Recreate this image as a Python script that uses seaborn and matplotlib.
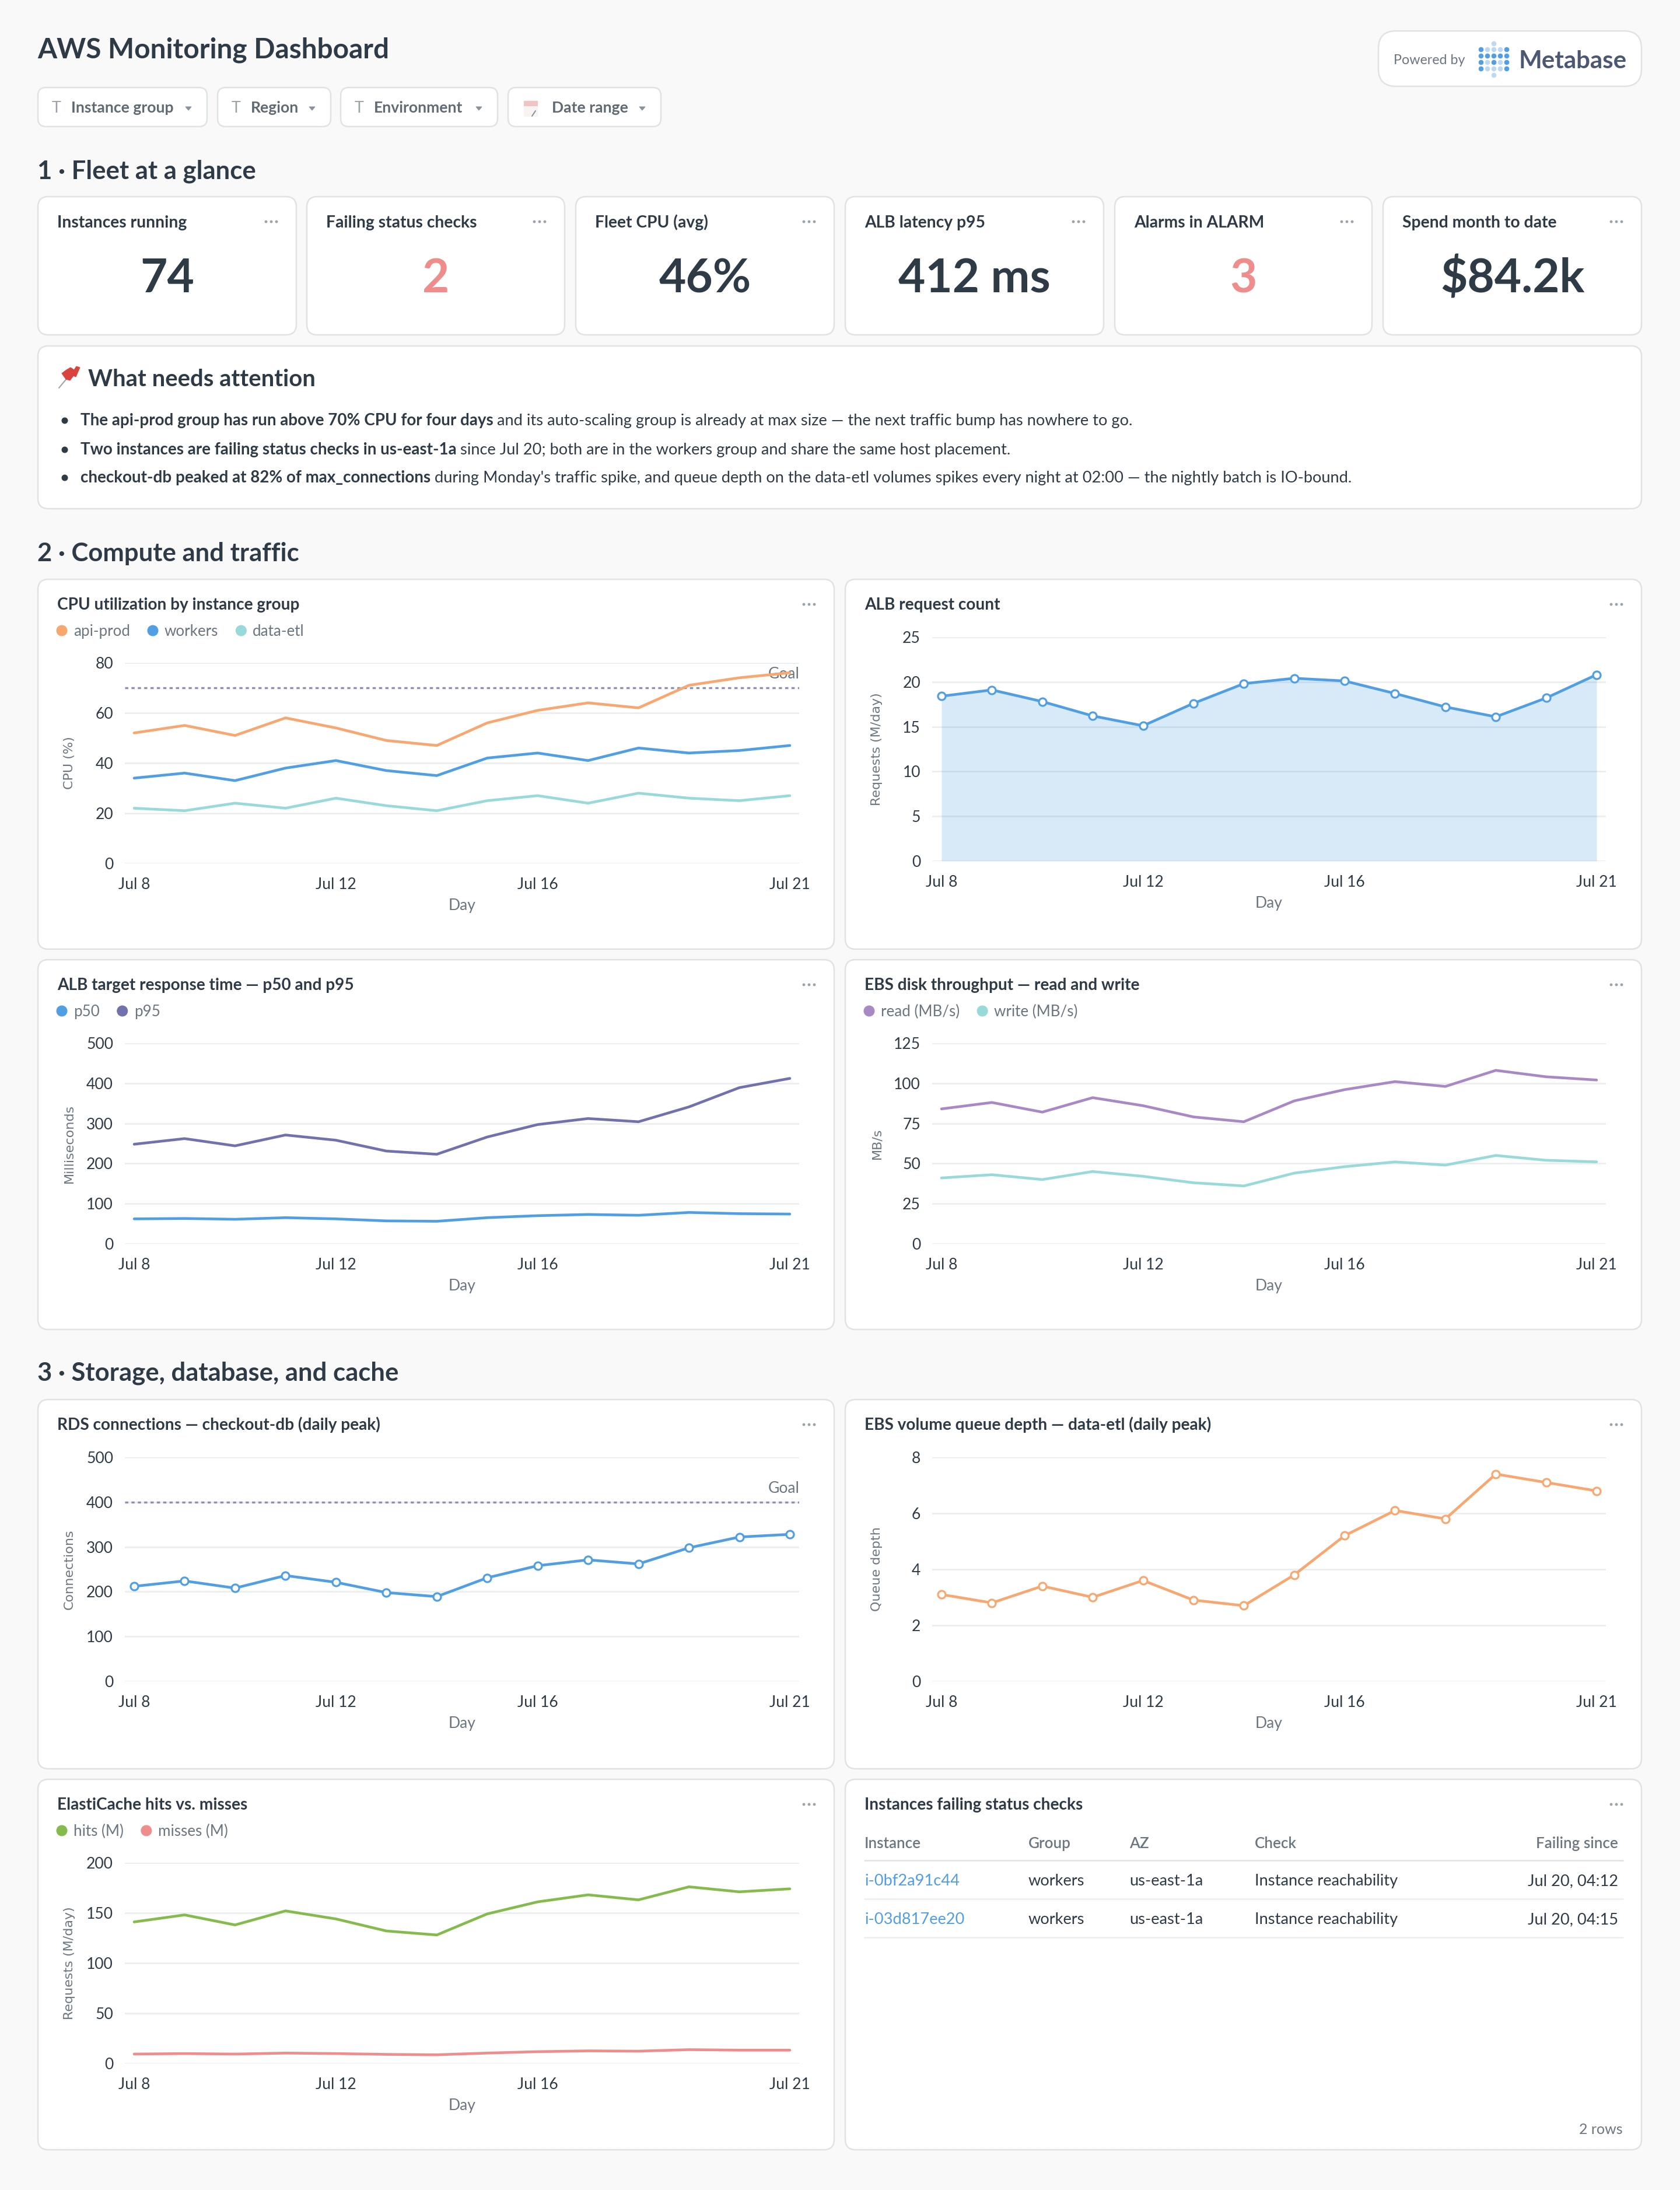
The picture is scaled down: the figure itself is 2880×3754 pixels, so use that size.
#!/usr/bin/env python3
"""AWS monitoring dashboard, rebuilt with seaborn line plots."""

import matplotlib
matplotlib.use("Agg")
import matplotlib.pyplot as plt
from matplotlib.patches import FancyBboxPatch, Rectangle, Circle, Polygon
import pandas as pd
import seaborn as sns

W, H = 2880, 3754

INK = "#2E3B47"
MUTED = "#6B7680"
GRID = "#ECEEEF"
BORDER = "#DFE3E4"
PAGE = "#F9F9F9"
ORANGE = "#F7A76F"
BLUE = "#509EE3"
TEAL = "#98D9D9"
PURPLE = "#A989C5"
INDIGO = "#7172AD"
GREEN = "#84BB4C"
RED = "#EF8C8C"

days = [8, 9, 10, 11, 12, 13, 14, 15, 16, 17, 18, 19, 20, 21]
tick_days = [8, 12, 16, 21]

cpu_api = [52, 55, 51, 58, 54, 49, 47, 56, 61, 64, 62, 71, 74, 76]
cpu_workers = [34, 36, 33, 38, 41, 37, 35, 42, 44, 41, 46, 44, 45, 47]
cpu_etl = [22, 21, 24, 22, 26, 23, 21, 25, 27, 24, 28, 26, 25, 27]
alb_requests = [18.4, 19.1, 17.8, 16.2, 15.1, 17.6, 19.8, 20.4, 20.1, 18.7, 17.2, 16.1, 18.2, 20.8]
p50 = [62, 63, 61, 65, 62, 57, 56, 65, 70, 73, 71, 78, 75, 74]
p95 = [248, 262, 244, 271, 258, 231, 223, 266, 297, 312, 304, 341, 389, 412]
ebs_read = [84, 88, 82, 91, 86, 79, 76, 89, 96, 101, 98, 108, 104, 102]
ebs_write = [41, 43, 40, 45, 42, 38, 36, 44, 48, 51, 49, 55, 52, 51]
rds_conns = [212, 224, 208, 236, 221, 198, 189, 231, 258, 271, 262, 298, 322, 328]
queue_depth = [3.1, 2.8, 3.4, 3.0, 3.6, 2.9, 2.7, 3.8, 5.2, 6.1, 5.8, 7.4, 7.1, 6.8]
cache_hits = [141, 148, 138, 152, 144, 132, 128, 149, 161, 168, 163, 176, 171, 174]
cache_misses = [9.3, 9.8, 9.3, 10.3, 9.8, 9, 8.6, 10.3, 11.7, 12.5, 12.2, 13.7, 13.2, 13.2]

kpi_titles = ["Instances running", "Failing status checks", "Fleet CPU (avg)",
              "ALB latency p95", "Alarms in ALARM", "Spend month to date"]
kpi_values = ["74", "2", "46%", "412 ms", "3", "$84.2k"]
kpi_colors = [INK, RED, INK, INK, RED, INK]

filter_names = ["Instance group", "Region", "Environment", "Date range"]

table_columns = ["Instance", "Group", "AZ", "Check", "Failing since"]
table_rows = [
    ["i-0bf2a91c44", "workers", "us-east-1a", "Instance reachability", "Jul 20, 04:12"],
    ["i-03d817ee20", "workers", "us-east-1a", "Instance reachability", "Jul 20, 04:15"],
]

sns.set_theme(style="white")
plt.rcParams["font.family"] = ["Lato", "DejaVu Sans"]

# dpi 72 so one point is one output pixel
fig = plt.figure(figsize=(W / 72, H / 72), dpi=72, facecolor=PAGE)
bg = fig.add_axes([0, 0, 1, 1], zorder=0)
bg.set_xlim(0, W)
bg.set_ylim(H, 0)
bg.axis("off")


def text(x, y, s, size=28, color=INK, weight="normal", ha="left", va="baseline", **kw):
    return bg.text(x, y, s, fontsize=size, color=color, fontweight=weight, ha=ha, va=va, **kw)


def card(x0, y0, x1, y1, radius=18):
    bg.add_patch(FancyBboxPatch((x0 + radius, y0 + radius), x1 - x0 - 2 * radius, y1 - y0 - 2 * radius,
                                boxstyle=f"round,pad={radius},rounding_size={radius}",
                                facecolor="white", edgecolor=BORDER, linewidth=2.5, zorder=1))


def dots(x, y):
    for i in (-9, 0, 9):
        bg.add_patch(Circle((x + i, y), 1.9, color="#9AA2A8", zorder=3))


def runs(x, y, parts):
    # bold and regular pieces on one line
    renderer = fig.canvas.get_renderer()
    for s, weight in parts:
        t = text(x, y, s, size=27.8 if weight == "bold" else 27.3, weight=weight, zorder=3)
        x = bg.transData.inverted().transform(t.get_window_extent(renderer))[1][0]


def chart_card(x0, y0, x1, y1, title):
    card(x0, y0, x1, y1)
    text(x0 + 33, y0 + 52, title, size=28, weight="bold", zorder=3)
    dots(x1 - 43, y0 + 43)


def legend_row(x, y, items):
    renderer = fig.canvas.get_renderer()
    for label, color in items:
        bg.add_patch(Circle((x + 9, y - 9), 9, color=color, zorder=3))
        t = text(x + 29, y, label, size=26, color=MUTED, zorder=3)
        x = bg.transData.inverted().transform(t.get_window_extent(renderer))[1][0] + 30


def line_chart(box, series, ymax, yticks, ylabel, markers=False, area=False, goal=None):
    # box is left, top, right, bottom in pixels: the gridline span
    left, top, right, bottom = box
    ax = fig.add_axes([left / W, 1 - bottom / H, (right - left) / W, (bottom - top) / H], zorder=2)
    ax.patch.set_alpha(0)
    frame = pd.DataFrame([{"day": d, "value": v, "series": name}
                          for name, (vals, _) in series.items() for d, v in zip(days, vals)])
    palette = {name: c for name, (_, c) in series.items()}
    if area:
        vals, c = next(iter(series.values()))
        ax.fill_between(days, vals, 0, color=c, alpha=0.22, linewidth=0, zorder=1)
    sns.lineplot(data=frame, x="day", y="value", hue="series", palette=palette, ax=ax, legend=False,
                 linewidth=4.6, marker="o" if markers else None, markersize=13,
                 markerfacecolor="white", markeredgecolor=list(palette.values())[0],
                 markeredgewidth=3.2, zorder=3, clip_on=False)
    ax.set_xlim(8 - 16 / 86.4, 21 + 16 / 86.4)
    ax.set_ylim(0, ymax)
    ax.set_xticks(tick_days)
    ax.set_xticklabels([f"Jul {d}" for d in tick_days])
    ax.set_yticks(yticks)
    ax.tick_params(axis="both", length=0, labelsize=26.5, labelcolor=INK, pad=0)
    ax.tick_params(axis="x", pad=24)
    ax.tick_params(axis="y", pad=20)
    ax.grid(axis="y", color=GRID, linewidth=3, zorder=0)
    ax.set_axisbelow(True)
    sns.despine(ax=ax, left=True, bottom=True, top=True, right=True)
    ax.set_xlabel("")
    ax.set_ylabel("")
    mid_x = (left + right) / 2
    text(mid_x, bottom + 80, "Day", size=26.5, color=MUTED, ha="center", zorder=3)
    text(left - 95, (top + bottom) / 2, ylabel, size=22.3, color=MUTED, ha="center", va="center",
         rotation=90, family=["DejaVu Sans"], zorder=3)
    if goal is not None:
        ax.axhline(goal, color="#8E8FB5", linewidth=3.4, linestyle=(0, (1.6, 1.6)), zorder=2)
        text(right + 1, top + (1 - goal / ymax) * (bottom - top) - 16, "Goal", size=26.5, color=MUTED, ha="right", zorder=4)
    return ax


# header
text(64, 99, "AWS Monitoring Dashboard", size=47.7, weight="bold")

chip_edges = [(65, 355), (373, 567), (584, 853), (871, 1133)]
for (x0, x1), name in zip(chip_edges, filter_names):
    card(x0, 150, x1, 217, radius=14)
    if name == "Date range":
        bg.add_patch(Rectangle((x0 + 27, 172), 23, 27, color="#F7F4F2", zorder=3))
        bg.add_patch(Rectangle((x0 + 27, 173), 23, 8, color="#EFC4C2", zorder=3))
        bg.plot([x0 + 41, x0 + 47], [199, 190], color="#8A9299", lw=2, zorder=3)
        text(x0 + 75, 193, name, size=26.5, color="#5F6A72", weight="bold", zorder=3)
    else:
        text(x0 + 24, 193, "T", size=27, color="#9AA2A8", zorder=3)
        text(x0 + 57, 193, name, size=26.5, color="#5F6A72", weight="bold", zorder=3)
    bg.add_patch(Polygon([(x1 - 37, 183), (x1 - 27, 183), (x1 - 32, 189)], color="#8A9299", zorder=3))

# powered by badge
card(2363, 53, 2814, 148, radius=30)
text(2389, 110, "Powered by", size=23.3, color=MUTED, zorder=3)
text(2604, 117, "Metabase", size=42, color="#4C5773", weight="bold", zorder=3)
LIGHT_DOT = "#BFD8F1"
logo_cols = [2539, 2550, 2561, 2572, 2583]
logo_rows = [85, 96, 107, 118]
for col, cx in enumerate(logo_cols):
    for row, cy in enumerate(logo_rows):
        on = col in (0, 4) or row == 1 or (row == 2 and col == 2)
        bg.add_patch(Circle((cx, cy), 3.8, color=BLUE if on else LIGHT_DOT, zorder=3))
for cy in (75, 129):
    bg.add_patch(Circle((2561, cy), 3.8, color=LIGHT_DOT, zorder=3))

# section 1
text(64, 306, "1 · Fleet at a glance", size=43.6, weight="bold")
kpi_edges = [(65, 508), (526, 968), (987, 1430), (1449, 1892), (1911, 2352), (2371, 2814)]
for (x0, x1), t, v, c in zip(kpi_edges, kpi_titles, kpi_values, kpi_colors):
    card(x0, 337, x1, 574)
    text(x0 + 33, 390, t, size=28.3, weight="bold", zorder=3)
    dots(x1 - 43, 380)
    text((x0 + x1) / 2, 501, v, size=80, color=c, weight="bold", ha="center", zorder=3)

# attention box
card(65, 593, 2814, 872)
bg.plot([101, 116], [665, 647], color="#9AA2A8", lw=2, zorder=3)
bg.add_patch(Polygon([(106, 640), (113, 650), (120, 652), (126, 644), (130, 646), (137, 630),
                      (131, 628), (127, 634), (121, 630), (114, 634)], color="#D9443F", zorder=3))
text(151, 662, "What needs attention", size=40, weight="bold", zorder=3)
for y in (721, 771, 819):
    bg.add_patch(Circle((111, y), 5, color=INK, zorder=3))
runs(138, 729, [("The api-prod group has run above 70% CPU for four days ", "bold"),
                ("and its auto-scaling group is already at max size — the next traffic bump has nowhere to go.", "normal")])
runs(138, 779, [("Two instances are failing status checks in us-east-1a ", "bold"),
                ("since Jul 20; both are in the workers group and share the same host placement.", "normal")])
runs(138, 827, [("checkout-db peaked at 82% of max_connections ", "bold"),
                ("during Monday's traffic spike, and queue depth on the data-etl volumes spikes every night at 02:00 — the nightly batch is IO-bound.", "normal")])

# section 2
text(64, 962, "2 · Compute and traffic", size=43.6, weight="bold")
chart_card(65, 993, 1430, 1627, "CPU utilization by instance group")
legend_row(97, 1090, [("api-prod", ORANGE), ("workers", BLUE), ("data-etl", TEAL)])
line_chart((214, 1136, 1370, 1480), {"api-prod": (cpu_api, ORANGE), "workers": (cpu_workers, BLUE),
                                    "data-etl": (cpu_etl, TEAL)},
           80, [0, 20, 40, 60, 80], "CPU (%)", goal=70)

chart_card(1449, 993, 2814, 1627, "ALB request count")
line_chart((1598, 1092, 2753, 1476), {"requests": (alb_requests, BLUE)},
           25, [0, 5, 10, 15, 20, 25], "Requests (M/day)", markers=True, area=True)

chart_card(65, 1645, 1430, 2279, "ALB target response time — p50 and p95")
legend_row(97, 1742, [("p50", BLUE), ("p95", INDIGO)])
line_chart((214, 1788, 1370, 2132), {"p50": (p50, BLUE), "p95": (p95, INDIGO)},
           500, [0, 100, 200, 300, 400, 500], "Milliseconds")

chart_card(1449, 1645, 2814, 2279, "EBS disk throughput — read and write")
legend_row(1481, 1742, [("read (MB/s)", PURPLE), ("write (MB/s)", TEAL)])
line_chart((1598, 1788, 2753, 2132), {"read": (ebs_read, PURPLE), "write": (ebs_write, TEAL)},
           125, [0, 25, 50, 75, 100, 125], "MB/s")

# section 3
text(64, 2367, "3 · Storage, database, and cache", size=43.6, weight="bold")
chart_card(65, 2399, 1430, 3032, "RDS connections — checkout-db (daily peak)")
line_chart((214, 2498, 1370, 2882), {"connections": (rds_conns, BLUE)},
           500, [0, 100, 200, 300, 400, 500], "Connections", markers=True, goal=400)

chart_card(1449, 2399, 2814, 3032, "EBS volume queue depth — data-etl (daily peak)")
line_chart((1598, 2498, 2753, 2882), {"queue": (queue_depth, ORANGE)},
           8, [0, 2, 4, 6, 8], "Queue depth", markers=True)

chart_card(65, 3050, 1430, 3685, "ElastiCache hits vs. misses")
legend_row(97, 3147, [("hits (M)", GREEN), ("misses (M)", RED)])
line_chart((214, 3193, 1370, 3537), {"hits": (cache_hits, GREEN), "misses": (cache_misses, RED)},
           200, [0, 50, 100, 150, 200], "Requests (M/day)")

# table card
chart_card(1449, 3050, 2814, 3685, "Instances failing status checks")
col_x = [1482, 1763, 1936, 2151]
for x, name in zip(col_x, table_columns[:4]):
    text(x, 3168, name, size=26, color=MUTED, weight="semibold", zorder=3)
text(2774, 3168, table_columns[4], size=26, color=MUTED, weight="semibold", ha="right", zorder=3)
bg.plot([1482, 2782], [3189, 3189], color=BORDER, lw=2.5, zorder=3)
for row, y in zip(table_rows, (3232, 3298)):
    text(col_x[0], y, row[0], size=27.3, color=BLUE, zorder=3)
    for x, s in zip(col_x[1:], row[1:4]):
        text(x, y, s, size=27.3, zorder=3)
    text(2774, y, row[4], size=27.3, ha="right", zorder=3)
    bg.plot([1482, 2782], [y + 23, y + 23], color=GRID, lw=2.5, zorder=3)
text(2782, 3658, "2 rows", size=25, color=MUTED, ha="right", zorder=3)

fig.savefig("out.png", dpi=72, facecolor=PAGE)
